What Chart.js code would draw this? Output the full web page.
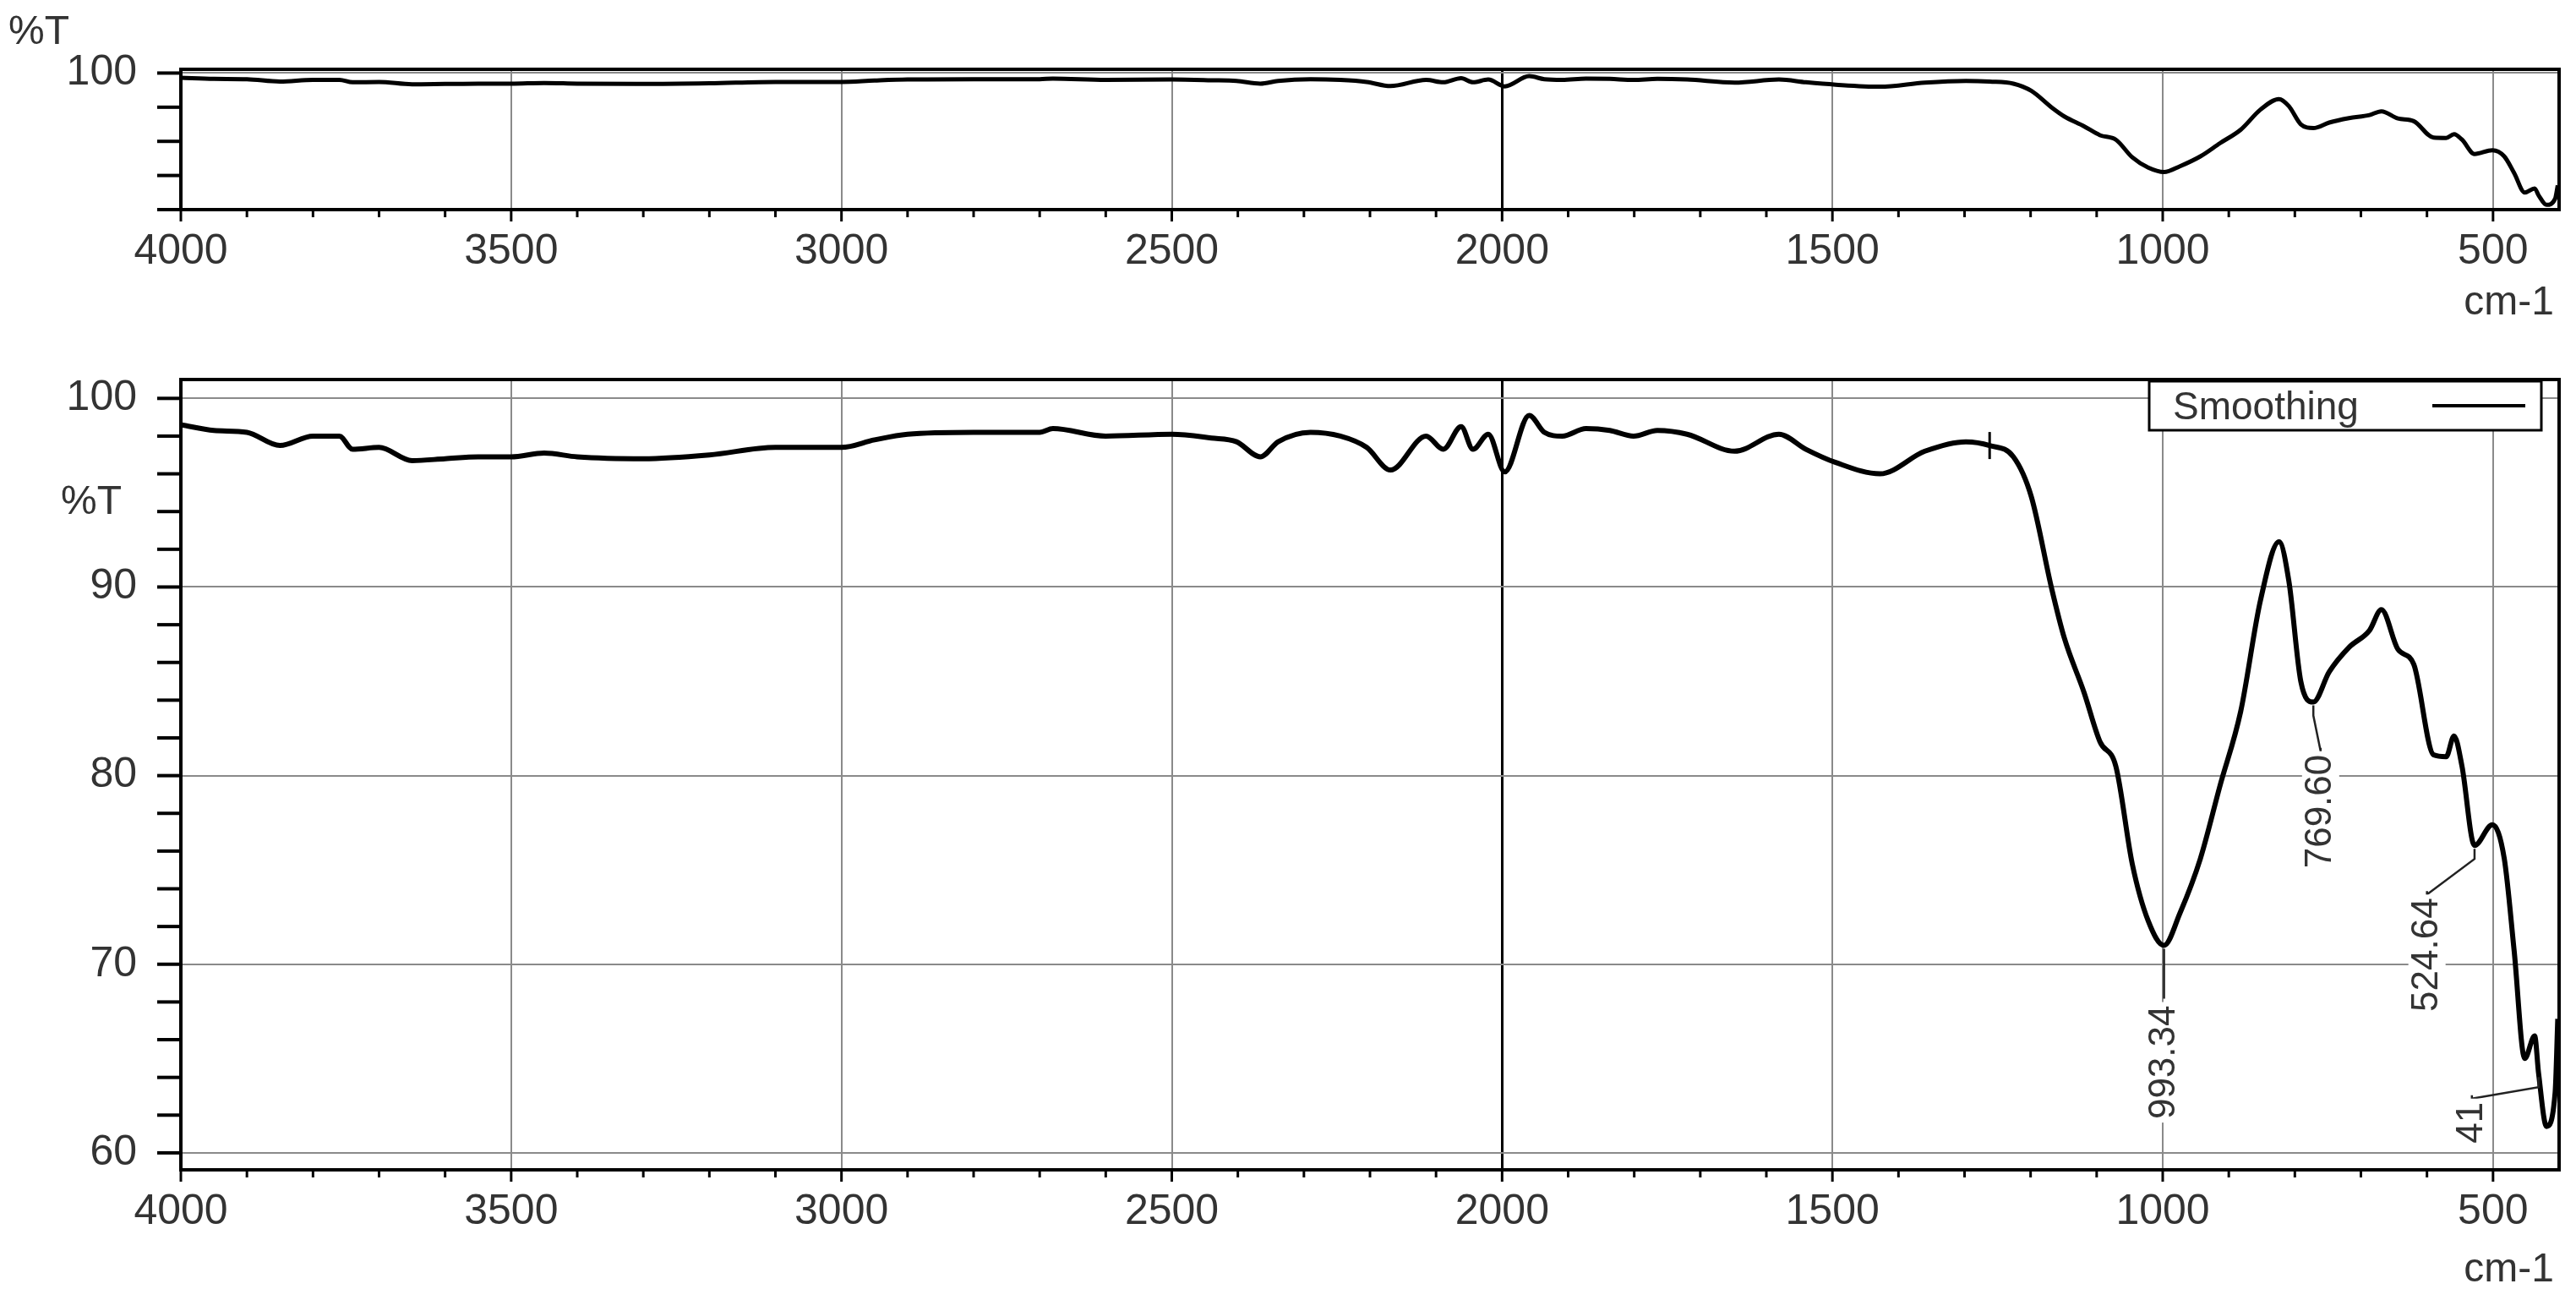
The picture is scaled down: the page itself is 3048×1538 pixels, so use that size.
<!DOCTYPE html>
<html><head><meta charset="utf-8">
<script src="https://cdn.jsdelivr.net/npm/chart.js@4/dist/chart.umd.min.js"></script>
<style>
html,body{margin:0;padding:0;background:#fff;width:3048px;height:1538px;overflow:hidden}
.box{position:absolute;left:0;width:3048px}
</style></head><body>
<div class="box" style="top:0;height:400px"><canvas id="c1"></canvas></div>
<div class="box" style="top:340px;height:1198px"><canvas id="c2"></canvas></div>
<script>
const wavenumbers = [4000,3950,3900,3850,3800,3760,3740,3700,3650,3600,3550,3500,3450,3400,3300,3200,3100,3000,2950,2900,2800,2700,2680,2600,2500,2440,2402,2366,2339,2290,2245,2205,2169,2115,2089,2062,2044,2021,1996,1959,1936,1909,1873,1837,1801,1765,1720,1648,1581,1540,1495,1428,1360,1298,1262,1226,1199,1168,1149,1119,1095,1071,1046,1022,998,974,943,913,882,852,824,809,791,772,748,718,687,669,644,620,590,571,559,547,528,501,483,468,452,437,431,419,406,402];
const transmittance = [98.6,98.3,98.2,97.5,98.0,98.0,97.3,97.4,96.7,96.8,96.9,96.9,97.1,96.9,96.8,97.0,97.4,97.4,97.8,98.1,98.2,98.2,98.4,98.0,98.1,97.9,97.7,96.9,97.7,98.2,98.0,97.4,96.2,98.0,97.3,98.5,97.3,98.1,96.1,99.1,98.2,98.0,98.4,98.3,98.0,98.3,98.1,97.2,98.1,97.3,96.6,96.0,97.2,97.7,97.5,96.9,94.8,89.9,87.3,84.4,81.8,80.5,75.3,72.3,71.0,72.7,75.6,79.5,83.4,89.3,92.4,90.3,85.0,83.9,85.5,86.8,87.7,88.8,86.7,85.9,81.1,81.0,82.1,80.5,76.3,77.4,75.6,70.7,65.0,66.2,64.2,61.4,63.2,67.1];
const xTickLabels = [4000,3500,3000,2500,2000,1500,1000,500];
const bottomYTicks = [60,70,80,90,100];
const topYTicks = [60,70,80,90,100];
const peakLabels = ["993.34","769.60","524.64","41"];
const peakX = [998,772,528,431];
const peakY = [71.0,83.9,76.3,64.2];
const labelX = [998,761,600,532];
const labelY = [64.8,78.1,70.5,61.6];
const seriesName = "Smoothing";

const FONT = "'Liberation Sans', Arial, sans-serif";
const pts = wavenumbers.map((w,i)=>({x:w,y:transmittance[i]}));

function makeChart(id, opts){
  const yTicksArr = opts.yTicks;
  const plugin = {
    id:'deco'+id,
    afterDraw(chart){
      const c = chart.ctx, xs = chart.scales.x, ys = chart.scales.y, a = chart.chartArea;
      c.save();
      c.strokeStyle='#000'; c.lineWidth=4;
      for(let k=0;;k++){
        const vv=Math.ceil(opts.yMin/opts.yMinor)*opts.yMinor+k*opts.yMinor;
        if(vv>opts.yMax) break;
        const py=ys.getPixelForValue(vv);
        c.beginPath(); c.moveTo(a.left-28,py); c.lineTo(a.left,py); c.stroke();
      }
      c.lineWidth=3;
      for(let v=500; v<=4000; v+=100){
        const px=xs.getPixelForValue(v);
        const len = v%500===0?14:9;
        c.beginPath(); c.moveTo(px,a.bottom); c.lineTo(px,a.bottom+len); c.stroke();
      }
      c.lineWidth=4; c.strokeRect(a.left,a.top,a.right-a.left,a.bottom-a.top);
      c.fillStyle='#333'; c.font='48px '+FONT;
      c.textAlign='right'; c.textBaseline='alphabetic';
      c.fillText('cm-1', a.right-6, opts.cmY);
      c.textAlign='left';
      c.fillText('%T', opts.tX, opts.tY);
      if(opts.bottom){
        const lx=2543, ly=451-340, lw=464, lh=58;
        c.fillStyle='#fff'; c.fillRect(lx,ly,lw,lh);
        c.strokeStyle='#000'; c.lineWidth=3; c.strokeRect(lx,ly,lw,lh);
        c.fillStyle='#333'; c.font='46px '+FONT; c.textBaseline='middle';
        c.fillText(seriesName, lx+28, ly+lh/2+3);
        c.lineWidth=4;
        c.beginPath(); c.moveTo(lx+335,ly+lh/2); c.lineTo(lx+445,ly+lh/2); c.stroke();
        c.lineWidth=2.5; c.strokeStyle='#222';
        peakLabels.forEach((t,i)=>{
          const px=xs.getPixelForValue(peakX[i]), py=ys.getPixelForValue(peakY[i]);
          const tx=xs.getPixelForValue(labelX[i]), ty=ys.getPixelForValue(labelY[i]);
          c.font='44px '+FONT;
          const tw=c.measureText(t).width;
          const topY=ty-tw/2-8;
          c.beginPath(); c.moveTo(px,py+4);
          if(Math.abs(px-tx)>3){ c.lineTo(px,py+16); c.lineTo(tx,topY+4);} 
          c.lineTo(tx,topY); c.stroke();
          c.save(); c.translate(tx,ty); c.rotate(-Math.PI/2);
          c.fillStyle='#fff'; c.fillRect(-tw/2-4,-22,tw+8,44);
          c.fillStyle='#333'; c.textAlign='center'; c.textBaseline='middle';
          c.fillText(t,0,0); c.restore();
        });
        const mx=xs.getPixelForValue(1262), my=ys.getPixelForValue(97.5);
        c.lineWidth=3; c.strokeStyle='#000';
        c.beginPath(); c.moveTo(mx,my-16); c.lineTo(mx,my+16); c.stroke();
      }
      c.restore();
    }
  };
  return new Chart(document.getElementById(id),{
    type:'line',
    data:{datasets:[{label:seriesName,data:pts,borderColor:'#000',borderWidth:opts.lw,pointRadius:0,cubicInterpolationMode:'monotone',fill:false}]},
    options:{
      responsive:true, maintainAspectRatio:false, animation:false,
      layout:{padding:{top:opts.padTop,right:20,left:0,bottom:0}},
      plugins:{legend:{display:false},tooltip:{enabled:false}},
      scales:{
        x:{type:'linear',reverse:true,min:400,max:4000,
          afterBuildTicks(s){s.ticks=xTickLabels.map(v=>({value:v}));},
          afterFit(s){s.height=opts.xH;},
          grid:{drawTicks:false,lineWidth:ctx=>ctx.tick&&ctx.tick.value===2000?3:2,
                color:ctx=>ctx.tick&&ctx.tick.value===2000?'#000':'#8a8a8a'},
          border:{display:false},
          ticks:{padding:20,color:'#333',font:{family:FONT,size:50},maxRotation:0,autoSkip:false,callback:v=>String(v)}},
        y:{min:opts.yMin,max:opts.yMax,
          afterBuildTicks(s){s.ticks=yTicksArr.map(v=>({value:v}));},
          afterFit(s){s.width=214;},
          grid:{drawTicks:false,lineWidth:2,color:ctx=>(opts.labelAll||(ctx.tick&&ctx.tick.value===100))?'#8a8a8a':'rgba(0,0,0,0)'},
          border:{display:false},
          ticks:{padding:52,color:'#333',font:{family:FONT,size:50},
            callback:v=>opts.labelAll||v===100?String(v):''}}
      }
    },
    plugins:[plugin]
  });
}
makeChart('c1',{yMin:60,yMax:101.1,yMinor:10,yTicks:topYTicks,padTop:66,xH:152,labelAll:false,cmY:372,tX:10,tY:52,bottom:false,lw:5});
makeChart('c2',{yMin:59.1,yMax:101,yMinor:2,yTicks:bottomYTicks,padTop:109,xH:154,labelAll:true,cmY:1176,tX:72,tY:268,bottom:true,lw:6});
</script></body></html>
